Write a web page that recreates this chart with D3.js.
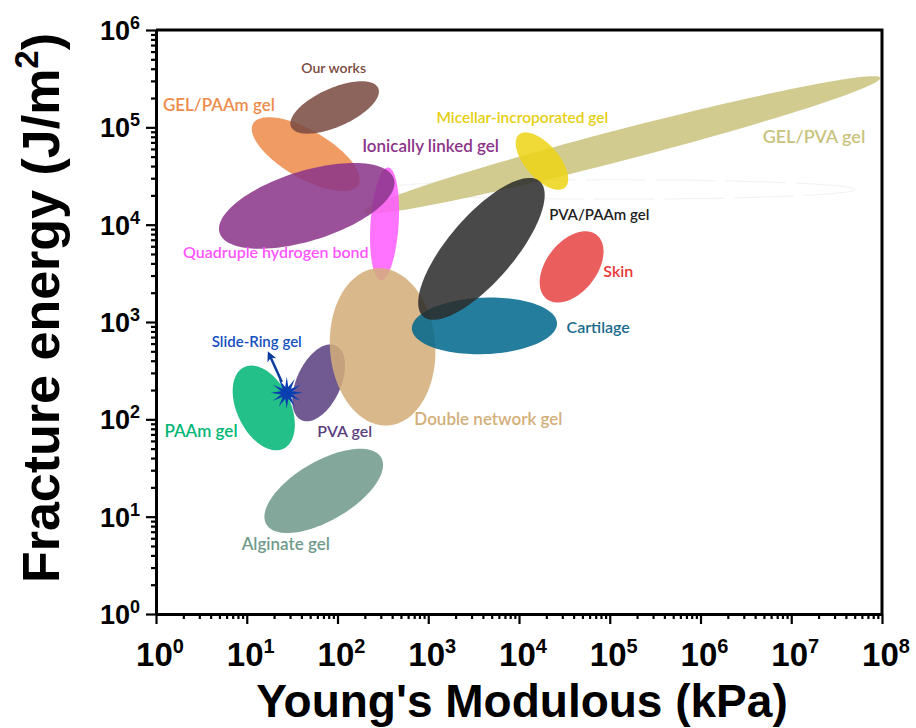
<!DOCTYPE html>
<meta charset="utf-8">
<head>
  <title>Fracture energy vs Young's modulus</title>
</head>
<script src="https://d3js.org/d3.v7.min.js"></script>
<body style="margin:0;background:#fff">
  <div id="my_dataviz"></div>
</body>

<script>
  // regions: centre (kPa, J/m2), half axes in decades, tilt in log space
  var regionNames = ["outline", "GEL/PVA gel", "GEL/PAAm gel", "Our works", "Quadruple hydrogen bond",
    "Ionically linked gel", "Micellar-incroporated gel", "PAAm gel", "PVA gel", "Double network gel",
    "Cartilage", "PVA/PAAm gel", "Skin", "Alginate gel"];
  var centerE = [1.15e5, 1.36e5, 44.7, 93, 330, 45.8, 1.79e4, 15.4, 62, 314, 4160, 3855, 3.8e4, 70.5];
  var centerG = [2.3e4, 6.6e4, 5.3e4, 1.6e5, 1.02e4, 1.56e4, 4.5e4, 131, 237, 555, 912, 5640, 3680, 18.4];
  var majorDec = [2.64, 2.93, 0.66, 0.52, 0.58, 1.0, 0.372, 0.472, 0.428, 0.81, 0.80, 0.946, 0.43, 0.72];
  var minorDec = [0.10, 0.16, 0.25, 0.20, 0.155, 0.36, 0.18, 0.29, 0.24, 0.58, 0.29, 0.35, 0.27, 0.31];
  var tiltDeg = [0, 13.6, -27.9, 22, 86, 15.8, -45.9, -60.7, 62.5, 95, 2, 46.7, 47.6, 27.7];

  var labelText = ["Our works", "GEL/PAAm gel", "Ionically linked gel", "Micellar-incroporated gel", "GEL/PVA gel",
    "PVA/PAAm gel", "Skin", "Cartilage", "Double network gel", "PVA gel", "PAAm gel", "Alginate gel",
    "Quadruple hydrogen bond", "Slide-Ring gel"];
  var labelE = [90.8, 4.93, 1060, 1.09e4, 1.78e7, 7.66e4, 1.24e5, 7.46e4, 4600, 120, 3.13, 26.9, 20.9, 12.9];
  var labelG = [3.63e5, 1.48e5, 5.6e4, 1.11e5, 6.93e4, 1.12e4, 2910, 773, 87.5, 65.9, 65.9, 4.55, 4560, 555];

  // slide-ring gel point and where its arrow points
  var slideRing = { E: 27.6, G: 187 };
  var slideArrow = { E: 18, G: 449 };

  var xTicks = [1, 10, 100, 1e3, 1e4, 1e5, 1e6, 1e7, 1e8];
  var yTicks = [1, 10, 100, 1e3, 1e4, 1e5, 1e6];

  var fillColors = ["none", "#c9c37e", "#ee8b4a", "#7a4a40", "#ff5cff", "#8b3489", "#ecd417", "#00b676",
    "#5a3f80", "#d3ae79", "#00688d", "#2b2b2b", "#e84343", "#6f9a8b"];
  var labelColors = ["#7a4a40", "#ee8b4a", "#8b3489", "#e6cf10", "#c9c37e", "#222222", "#e83535", "#1a6a8e",
    "#d3ae79", "#5a3f80", "#00b676", "#6f9a8b", "#ff55ff", "#1450c0"];
  var labelSize = [14, 17, 17, 15.5, 18, 15, 16, 16, 17, 16, 17, 17, 16, 15];

  var margin = { top: 30, right: 34, bottom: 114, left: 156 },
    width = 916 - margin.left - margin.right,
    height = 728 - margin.top - margin.bottom;

  var svg = d3.select("#my_dataviz")
    .append("svg")
    .attr("width", 916)
    .attr("height", 728)
    .append("g")
    .attr("transform", "translate(" + margin.left + "," + margin.top + ")");

  var x = d3.scaleLog().domain([1, 1e8]).range([0, width]);
  var y = d3.scaleLog().domain([1, 1e6]).range([height, 0]);

  // ellipses built in log space, then mapped through the scales
  var line = d3.line()
    .x(function (p) { return x(Math.pow(10, p[0])) })
    .y(function (p) { return y(Math.pow(10, p[1])) })
    .curve(d3.curveLinearClosed);

  function ellipse(i) {
    var cx = Math.log10(centerE[i]), cy = Math.log10(centerG[i]);
    var t = tiltDeg[i] * Math.PI / 180, pts = [];
    for (var k = 0; k < 120; k++) {
      var s = k / 120 * 2 * Math.PI;
      var u = majorDec[i] * Math.cos(s), v = minorDec[i] * Math.sin(s);
      pts.push([cx + u * Math.cos(t) - v * Math.sin(t), cy + u * Math.sin(t) + v * Math.cos(t)]);
    }
    return line(pts);
  }

  svg.append("g")
    .selectAll("path")
    .data(d3.range(regionNames.length))
    .enter()
    .append("path")
    .attr("d", ellipse)
    .attr("fill", function (i) { return fillColors[i] })
    .attr("fill-opacity", 0.86)
    .attr("stroke", function (i) { return fillColors[i] == "none" ? "#f3f3f3" : "none" })
    .attr("stroke-width", 1.2)
    .attr("stroke-dasharray", function (i) { return fillColors[i] == "none" ? "60,10" : null });

  // slide-ring star + arrow
  var sx = x(slideRing.E), sy = y(slideRing.G);
  var ax = x(slideArrow.E), ay = y(slideArrow.G);
  svg.append("defs").append("marker")
    .attr("id", "arr")
    .attr("viewBox", "0 0 10 10")
    .attr("refX", 5).attr("refY", 5)
    .attr("markerWidth", 4).attr("markerHeight", 4)
    .attr("orient", "auto")
    .append("path")
    .attr("d", "M0,0 L10,5 L0,10 L3,5 Z")
    .attr("fill", "#0b3c9e");
  var dx = ax - sx, dy = ay - sy, dl = Math.sqrt(dx * dx + dy * dy);
  svg.append("line")
    .attr("x1", sx + dx / dl * 12).attr("y1", sy + dy / dl * 12)
    .attr("x2", ax).attr("y2", ay)
    .attr("stroke", "#0b3c9e")
    .attr("stroke-width", 2.5)
    .attr("marker-end", "url(#arr)");
  var star = [];
  for (var k = 0; k < 24; k++) {
    var r = k % 2 == 0 ? 16 : 6, a = k / 24 * 2 * Math.PI;
    star.push([r * Math.cos(a), r * Math.sin(a)]);
  }
  svg.append("path")
    .attr("d", "M" + star.join("L") + "Z")
    .attr("transform", "translate(" + sx + "," + sy + ")")
    .attr("fill", "#0a3fb0");

  // region labels
  svg.append("g")
    .selectAll("text")
    .data(labelText)
    .enter()
    .append("text")
    .attr("x", function (d, i) { return x(labelE[i]) })
    .attr("y", function (d, i) { return y(labelG[i]) })
    .attr("text-anchor", "middle")
    .style("font-family", "Lato, 'Open Sans', sans-serif")
    .style("font-weight", 600)
    .style("font-size", function (d, i) { return labelSize[i] + "px" })
    .attr("fill", function (d, i) { return labelColors[i] })
    .text(function (d) { return d });

  // frame
  svg.append("path")
    .attr("d", "M0,0H" + width + "V" + height)
    .attr("fill", "none")
    .attr("stroke", "black")
    .attr("stroke-width", 3);

  function minors(lo, hi) {
    var out = [];
    for (var e = lo; e < hi; e++)
      for (var m = 2; m < 10; m++) out.push(m * Math.pow(10, e));
    return out;
  }

  var axisStyle = function (g) {
    g.select(".domain").attr("stroke-width", 3);
    g.selectAll(".tick line").attr("stroke-width", 2.2);
  };

  svg.append("g")
    .attr("transform", "translate(0," + height + ")")
    .call(d3.axisBottom(x).tickValues(minors(0, 8)).tickSize(5).tickSizeOuter(0).tickFormat(""))
    .call(axisStyle);
  svg.append("g")
    .attr("transform", "translate(0," + height + ")")
    .call(d3.axisBottom(x).tickValues(xTicks).tickSize(10).tickSizeOuter(0).tickFormat(""))
    .call(axisStyle);
  svg.append("g")
    .call(d3.axisLeft(y).tickValues(minors(0, 6)).tickSize(5).tickSizeOuter(0).tickFormat(""))
    .call(axisStyle);
  svg.append("g")
    .call(d3.axisLeft(y).tickValues(yTicks).tickSize(10).tickSizeOuter(0).tickFormat(""))
    .call(axisStyle);

  // power-of-ten tick labels
  var xl = svg.append("g").selectAll("text")
    .data(xTicks).enter().append("text")
    .attr("x", function (d) { return x(d) + 4 })
    .attr("y", height + 52)
    .attr("text-anchor", "middle")
    .style("font-family", "'Liberation Sans Narrow', 'Liberation Sans', Arial, sans-serif")
    .style("font-weight", "bold")
    .style("font-size", "33px");
  xl.append("tspan").text("10");
  xl.append("tspan").attr("dy", -13).style("font-size", "20px").text(function (d) { return Math.round(Math.log10(d)) });

  var yl = svg.append("g").selectAll("text")
    .data(yTicks).enter().append("text")
    .attr("x", -16)
    .attr("y", function (d) { return y(d) + 10 })
    .attr("text-anchor", "end")
    .style("font-family", "'Liberation Sans', Arial, sans-serif")
    .style("font-weight", "bold")
    .style("font-size", "27px");
  yl.append("tspan").text("10");
  yl.append("tspan").attr("dy", -11).style("font-size", "18px").text(function (d) { return Math.round(Math.log10(d)) });

  // axis titles
  svg.append("text")
    .attr("x", width / 2 + 3)
    .attr("y", height + 103)
    .attr("text-anchor", "middle")
    .style("font-family", "'Liberation Sans', Arial, sans-serif")
    .style("font-weight", "bold")
    .style("font-size", "46px")
    .text("Young's Modulous (kPa)");

  var yt = svg.append("text")
    .attr("transform", "translate(-97," + (height / 2 - 14) + ") rotate(-90)")
    .attr("text-anchor", "middle")
    .style("font-family", "'Liberation Sans', Arial, sans-serif")
    .style("font-weight", "bold")
    .style("font-size", "52px");
  yt.append("tspan").text("Fracture energy (J/m");
  yt.append("tspan").attr("dy", -21).style("font-size", "33px").text("2");
  yt.append("tspan").attr("dy", 21).text(")");
</script>
